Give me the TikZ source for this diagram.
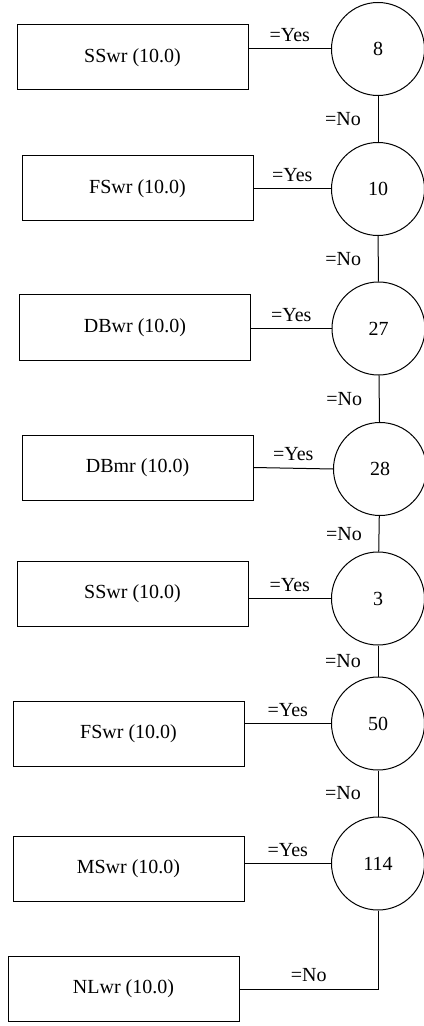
\documentclass[tikz,border=0pt]{standalone}
\usepackage{fontspec}
\setmainfont{Liberation Serif}

\begin{document}
\begin{tikzpicture}[x=.5pt,y=-.5pt,line width=.5pt,
  every node/.style={font=\fontsize{10}{12}\selectfont},
  leaf/.style={draw,minimum width=115.5pt,minimum height=32.5pt,inner sep=0pt},
  test/.style={draw,circle,minimum size=46.5pt,inner sep=0pt}]
\useasboundingbox (0,0) rectangle (423,1026);
\node[leaf] (b1) at (132.5,57.5) {SSwr (10.0)};
\node[leaf] (b2) at (137.5,188.5) {FSwr (10.0)};
\node[leaf] (b3) at (135,327.5) {DBwr (10.0)};
\node[leaf] (b4) at (137.5,467.5) {DBmr (10.0)};
\node[leaf] (b5) at (132.5,593.5) {SSwr (10.0)};
\node[leaf] (b6) at (128.5,733.5) {FSwr (10.0)};
\node[leaf] (b7) at (128.5,868.5) {MSwr (10.0)};
\node[leaf] (b8) at (123.5,989) {NLwr (10.0)};
\node[test] (c1) at (378,49) {8};
\node[test] (c2) at (378,189) {10};
\node[test] (c3) at (378.5,328.5) {27};
\node[test] (c4) at (380,469) {28};
\node[test] (c5) at (378,598.5) {3};
\node[test] (c6) at (378,723.5) {50};
\node[test] (c7) at (378,863.5) {114};
\draw (c1.west -| b1.east) -- node[above]{=Yes} (c1.west);
\draw (c2.west -| b2.east) -- node[above]{=Yes} (c2.west);
\draw (c3.west -| b3.east) -- node[above]{=Yes} (c3.west);
\draw (b4.east) -- node[above]{=Yes} (c4.west);
\draw (c5.west -| b5.east) -- node[above]{=Yes} (c5.west);
\draw (c6.west -| b6.east) -- node[above]{=Yes} (c6.west);
\draw (c7.west -| b7.east) -- node[above]{=Yes} (c7.west);
\draw (c1) -- node[left=5pt]{=No} (c2);
\draw (c2) -- node[left=5pt]{=No} (c3);
\draw (c3) -- node[left=5pt]{=No} (c4);
\draw (c4) -- node[left=5pt]{=No} (c5);
\draw (c5) -- node[left=5pt]{=No} (c6);
\draw (c6) -- node[left=5pt]{=No} (c7);
\draw (b8.east) -- node[above]{=No} (b8.east -| c7.south) -- (c7.south);
\end{tikzpicture}
\end{document}
